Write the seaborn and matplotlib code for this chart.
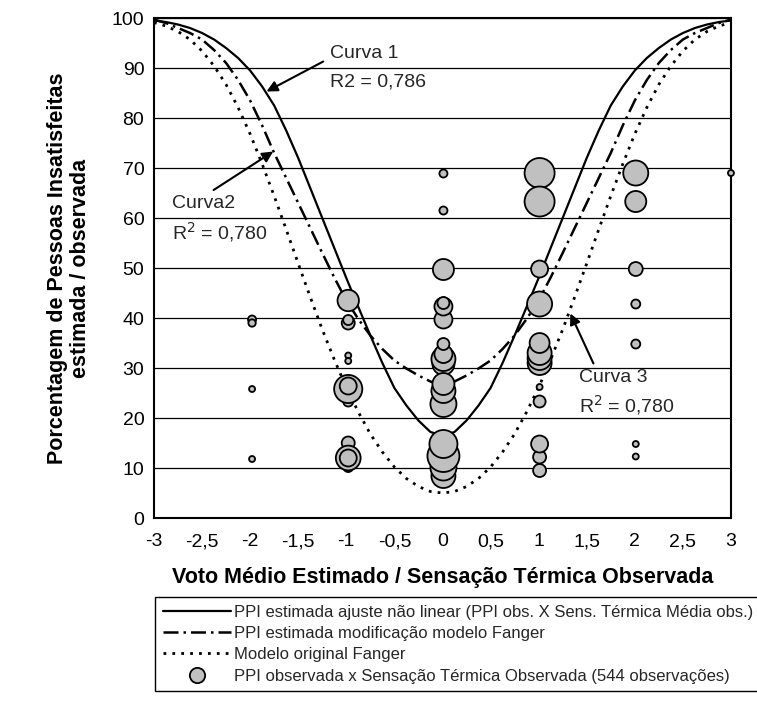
import matplotlib
matplotlib.use("Agg")
import matplotlib.pyplot as plt
import seaborn as sns
import pandas as pd
from matplotlib.lines import Line2D

# ==========================================
# Dados
# ==========================================
voto = [-3, -2.875, -2.75, -2.625, -2.5, -2.375, -2.25, -2.125, -2, -1.875, -1.75, -1.625,
        -1.5, -1.375, -1.25, -1.125, -1, -0.875, -0.75, -0.625, -0.5, -0.375, -0.25, -0.125,
        0,
        0.125, 0.25, 0.375, 0.5, 0.625, 0.75, 0.875, 1, 1.125, 1.25, 1.375, 1.5,
        1.625, 1.75, 1.875, 2, 2.125, 2.25, 2.375, 2.5, 2.625, 2.75, 2.875, 3]

# Curva 1: ajuste não linear
curva1 = [99.5, 99.2, 98.7, 98, 97, 95.7, 94, 92, 89.5, 86.3, 82.5, 77.5,
          72, 66, 60, 54, 48, 42.2, 36.5, 31, 26, 22.5, 19.5, 17.2,
          16.5,
          17.2, 19.5, 22.5, 26, 31, 36.5, 42.2, 48, 54, 60, 66, 72,
          77.5, 82.5, 86.3, 89.5, 92, 94, 95.7, 97, 98, 98.7, 99.2, 99.5]
# Curva 2: modificação modelo Fanger
curva2 = [99.7, 99, 98, 97, 95.7, 93.6, 91, 87.6, 83.5, 78.5, 73, 68,
          63, 58, 53, 48.1, 43.5, 39.8, 36.5, 33.8, 31.5, 29.9, 28.5, 27.3,
          26.5,
          27.3, 28.5, 29.9, 31.5, 33.8, 36.5, 39.8, 43.5, 48.1, 53, 58, 63,
          68, 73, 78.5, 83.5, 87.6, 91, 93.6, 95.7, 97, 98, 99, 99.7]
# Curva 3: modelo original Fanger
fanger = [99.1, 98.4, 97.3, 95.7, 93.4, 90.4, 86.7, 82.1, 76.8, 70.8, 64.4, 57.7,
          50.9, 44.2, 37.7, 31.7, 26.1, 21.2, 16.8, 13.2, 10.2, 7.9, 6.3, 5.3,
          5,
          5.3, 6.3, 7.9, 10.2, 13.2, 16.8, 21.2, 26.1, 31.7, 37.7, 44.2, 50.9,
          57.7, 64.4, 70.8, 76.8, 82.1, 86.7, 90.4, 93.4, 95.7, 97.3, 98.4, 99.1]

# PPI observada (bolhas): sensação, PPI, nº de observações
obs_x = [-1.98, -1.98, -1.98, -1.98,
         -0.98, -0.98, -0.98, -0.98, -0.98, -0.98, -0.98, -0.98, -0.98, -0.98, -0.98, -0.98, -0.98,
         0.01, 0.01, 0.01, 0.01, 0.01, 0.01, 0.01, 0.01, 0.01, 0.01, 0.01, 0.01, 0.01, 0.01, 0.01, 0.01, 0.01,
         1.01, 1.01, 1.01, 1.01, 1.01, 1.01, 1.01, 1.01, 1.01, 1.01, 1.01, 1.01, 1.01,
         2.01, 2.01, 2.01, 2.01, 2.01, 2.01, 2.01,
         3.0]
obs_y = [39.7, 39.0, 25.8, 11.8,
         43.5, 39.0, 39.6, 32.5, 31.4, 23.3, 24.6, 25.8, 26.4, 15.0, 10.2, 12.0, 12.0,
         68.9, 61.5, 49.7, 39.7, 42.3, 43.0, 30.8, 31.8, 32.8, 34.8, 22.8, 25.4, 26.8, 8.4, 10.1, 12.4, 14.8,
         69.0, 63.3, 49.8, 42.8, 31.0, 32.0, 33.0, 35.0, 26.2, 23.3, 9.5, 12.2, 14.8,
         69.0, 63.3, 49.8, 42.8, 34.8, 14.8, 12.3,
         69.0]
obs_n = [1.8, 1.5, 1, 1,
         12.7, 4.7, 2.8, 1, 1, 2.8, 4, 22, 8, 4.7, 2.8, 17, 8,
         1.8, 1.8, 12.3, 9, 9, 4, 13.4, 16, 9, 4, 18.8, 16, 13.4, 16, 18.8, 28.4, 21.8,
         25, 25, 8, 17.4, 16, 16, 16, 11, 1, 4, 4.7, 4.7, 8,
         17.4, 12.3, 5.4, 2.25, 2.25, 1, 1,
         1]

x_ticks = [-3, -2.5, -2, -1.5, -1, -0.5, 0, 0.5, 1, 1.5, 2, 2.5, 3]
x_tick_labels = ["-3", "-2,5", "-2", "-1,5", "-1", "-0,5", "0", "0,5", "1", "1,5", "2", "2,5", "3"]
y_ticks = [0, 10, 20, 30, 40, 50, 60, 70, 80, 90, 100]

legend_labels = [
    "PPI estimada ajuste não linear (PPI obs. X Sens. Térmica Média obs.)",
    "PPI estimada modificação modelo Fanger",
    "Modelo original Fanger",
    "PPI observada x Sensação Térmica Observada (544 observações)",
]

sns.set_theme(style="white")
plt.rcParams['font.family'] = ['Liberation Sans', 'DejaVu Sans']

curvas = pd.DataFrame({"voto": voto, "c1": curva1, "c2": curva2, "c3": fanger})
obs = pd.DataFrame({"x": obs_x, "y": obs_y, "n": obs_n})

fig = plt.figure(figsize=(7.57, 7.04), dpi=100)
ax = fig.add_axes([0.2034, 0.2642, 0.7622, 0.7102])

ls_c2 = (0, (6, 2, 1, 2))
ls_c3 = (0, (1, 2.2))

sns.lineplot(data=curvas, x="voto", y="c1", ax=ax, color="black", lw=1.6, zorder=3)
sns.lineplot(data=curvas, x="voto", y="c2", ax=ax, color="black", lw=1.8,
             linestyle=ls_c2, zorder=3)
sns.lineplot(data=curvas, x="voto", y="c3", ax=ax, color="black", lw=2.0,
             linestyle=ls_c3, zorder=3)

sns.scatterplot(data=obs, x="x", y="y", size="n", sizes=(18.7, 531), size_norm=(1, 28.4),
                color="#C0C0C0", edgecolor="black", linewidth=1.3, legend=False,
                ax=ax, zorder=4, clip_on=False)

ax.set_xlim(-3, 3)
ax.set_ylim(0, 100)
ax.set_xticks(x_ticks)
ax.set_xticklabels(x_tick_labels)
ax.set_yticks(y_ticks)
ax.tick_params(axis="both", labelsize=14, colors="black", direction="out",
               length=4, width=1.2)
ax.tick_params(axis="x", pad=7)
ax.tick_params(axis="y", pad=3)
ax.yaxis.grid(True, color="black", lw=0.9)
ax.xaxis.grid(False)
ax.set_axisbelow(True)
for sp in ax.spines.values():
    sp.set_color("black")
    sp.set_linewidth(1.5)

ax.set_xlabel("Voto Médio Estimado / Sensação Térmica Observada",
              fontsize=15.5, fontweight="bold", color="black")
ax.set_ylabel("Porcentagem de Pessoas Insatisfeitas\nestimada / observada",
              fontsize=15.5, fontweight="bold", color="black", linespacing=1.1)
ax.xaxis.set_label_coords(0.5, -0.098)
ax.yaxis.set_label_coords(-0.11, 0.5)

# Anotações
arrow = dict(arrowstyle="-|>", color="black", lw=1.5, mutation_scale=16, shrinkA=0, shrinkB=0)
ax.annotate("", xy=(-1.83, 85.3), xytext=(-1.24, 91.3), arrowprops=arrow)
ax.text(-1.17, 93.0, "Curva 1", fontsize=14, va="center", ha="left")
ax.text(-1.17, 87.2, "R2 = 0,786", fontsize=14, va="center", ha="left")

ax.annotate("", xy=(-1.76, 73.3), xytext=(-2.38, 65.6), arrowprops=arrow)
ax.text(-2.81, 63.0, "Curva2", fontsize=14, va="center", ha="left")
ax.text(-2.81, 57.2, "R$^2$ = 0,780", fontsize=14, va="center", ha="left")

ax.annotate("", xy=(1.33, 40.9), xytext=(1.57, 30.9), arrowprops=arrow)
ax.text(1.42, 28.1, "Curva 3", fontsize=14, va="center", ha="left")
ax.text(1.42, 22.6, "R$^2$ = 0,780", fontsize=14, va="center", ha="left")

# Legenda
handles = [
    Line2D([0], [0], color="black", lw=1.6),
    Line2D([0], [0], color="black", lw=1.8, linestyle=ls_c2),
    Line2D([0], [0], color="black", lw=2.0, linestyle=ls_c3),
    Line2D([0], [0], marker="o", ls="none", markerfacecolor="#C0C0C0",
           markeredgecolor="black", markersize=11, markeredgewidth=1.3),
]
leg = fig.legend(handles, legend_labels, loc="upper left",
                 bbox_to_anchor=(155 / 757, 1 - 597 / 704, 0.80, 0.0), mode="expand",
                 borderaxespad=0, frameon=True, fancybox=False, framealpha=1,
                 edgecolor="black", handlelength=4.1, handletextpad=0.2,
                 labelspacing=0.38, borderpad=0.45,
                 prop={"family": "Liberation Sans", "size": 12})
leg.get_frame().set_linewidth(1.0)

fig.savefig("out.png", dpi=100)
